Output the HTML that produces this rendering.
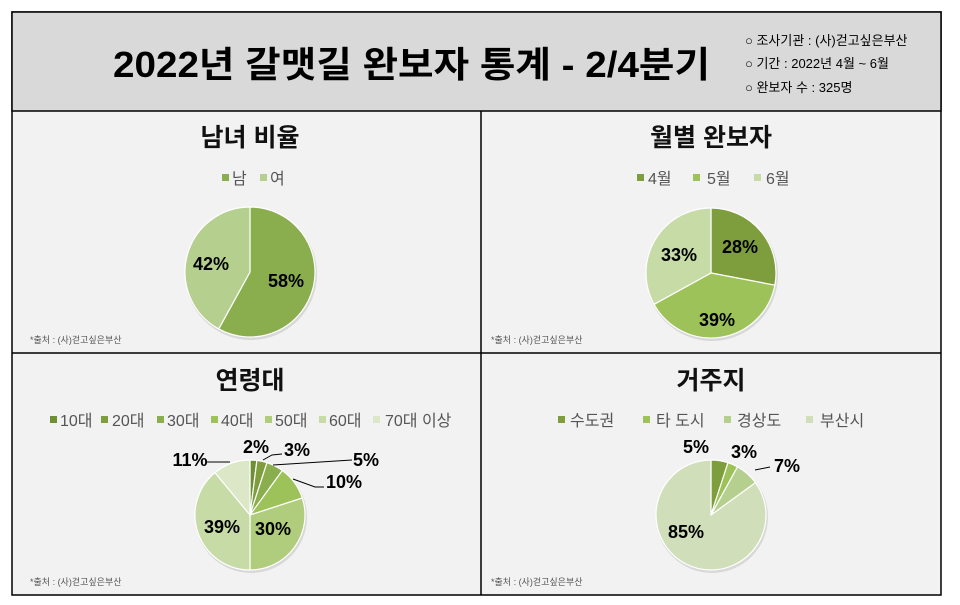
<!DOCTYPE html>
<html><head><meta charset="utf-8"><style>
body{margin:0;width:960px;height:600px;background:#fff;font-family:"Liberation Sans","Noto Sans CJK KR",sans-serif;overflow:hidden}
</style></head><body>
<svg id="s" width="960" height="600" xmlns="http://www.w3.org/2000/svg" font-family="Liberation Sans, Noto Sans CJK KR, sans-serif">
<rect x="12" y="12" width="929" height="583" fill="#f2f2f2" stroke="#000" stroke-width="1.5"/>
<rect x="12" y="12" width="929" height="99" fill="#d9d9d9" stroke="#000" stroke-width="1.5"/>
<line x1="481" y1="111" x2="481" y2="595" stroke="#000" stroke-width="1.5"/>
<line x1="12" y1="353" x2="941" y2="353" stroke="#000" stroke-width="1.5"/>
<text x="113" y="77" font-size="36" font-weight="bold" textLength="597" lengthAdjust="spacingAndGlyphs" fill="#000">2022년 갈맷길 완보자 통계 - 2/4분기</text>
<g font-size="13" fill="#000"><text x="745" y="45">○ 조사기관 : (사)걷고싶은부산</text><text x="745" y="68">○ 기간 : 2022년 4월 ~ 6월</text><text x="745" y="92">○ 완보자 수 : 325명</text></g>
<g font-size="25" font-weight="bold" text-anchor="middle" fill="#111"><text x="250" y="146">남녀 비율</text><text x="711" y="146">월별 완보자</text><text x="250" y="389">연령대</text><text x="711" y="389">거주지</text></g>
<g font-size="16" fill="#555">
<rect x="222" y="174" width="7" height="7" fill="#8aad4e"/><text x="232" y="184">남</text>
<rect x="260" y="174" width="7" height="7" fill="#b5cf8f"/><text x="270" y="184">여</text>
<rect x="637" y="174" width="7" height="7" fill="#7e9e3e"/><text x="648" y="184">4월</text>
<rect x="693" y="174" width="7" height="7" fill="#9dc25a"/><text x="707" y="184">5월</text>
<rect x="754" y="174" width="7" height="7" fill="#c7dba7"/><text x="766" y="184">6월</text>
<rect x="50" y="416" width="7" height="7" fill="#6f8f35"/><text x="60" y="426">10대</text>
<rect x="101" y="416" width="7" height="7" fill="#7e9e3e"/><text x="112" y="426">20대</text>
<rect x="157" y="416" width="7" height="7" fill="#8aad4e"/><text x="167" y="426">30대</text>
<rect x="211" y="416" width="7" height="7" fill="#9dc25a"/><text x="221" y="426">40대</text>
<rect x="265" y="416" width="7" height="7" fill="#afcd7c"/><text x="275" y="426">50대</text>
<rect x="319" y="416" width="7" height="7" fill="#c7dba7"/><text x="329" y="426">60대</text>
<rect x="373" y="416" width="7" height="7" fill="#dbe7c7"/><text x="385" y="426">70대 이상</text>
<rect x="558" y="416" width="7" height="7" fill="#7e9e3e"/><text x="570" y="426">수도권</text>
<rect x="643" y="416" width="7" height="7" fill="#9dc25a"/><text x="656" y="426">타 도시</text>
<rect x="724" y="416" width="7" height="7" fill="#b5cf8f"/><text x="737" y="426">경상도</text>
<rect x="806" y="416" width="7" height="7" fill="#d0deba"/><text x="820" y="426">부산시</text>
</g>
<g font-size="9" fill="#555"><text x="30" y="343">*출처 : (사)걷고싶은부산</text><text x="491" y="343">*출처 : (사)걷고싶은부산</text><text x="30" y="585">*출처 : (사)걷고싶은부산</text><text x="491" y="585">*출처 : (사)걷고싶은부산</text></g>
<g id="pies"></g>
<g font-size="18" font-weight="bold" fill="#000" text-anchor="middle">
<text x="286" y="287">58%</text><text x="211" y="270">42%</text>
<text x="740" y="253">28%</text><text x="717" y="326">39%</text><text x="679" y="261">33%</text>
<text x="256" y="453">2%</text><text x="297" y="456">3%</text><text x="366" y="466">5%</text><text x="344" y="488">10%</text>
<text x="273" y="535">30%</text><text x="222" y="533">39%</text><text x="190" y="466">11%</text>
<text x="696" y="453">5%</text><text x="744" y="458">3%</text><text x="787" y="472">7%</text><text x="686" y="538">85%</text>
</g>
<g stroke="#000" stroke-width="1" fill="none">
<polyline points="263,460 272,455 282,454"/><polyline points="273,465 352,460"/><polyline points="293,479 315,487 324,487"/><polyline points="207,462 230,462"/>
<polyline points="755,470 770,467"/>
</g>
</svg>
<script>
function pie(cx,cy,r,vals,cols){
 var g=document.getElementById('pies'),ns='http://www.w3.org/2000/svg';
 var c=document.createElementNS(ns,'circle');c.setAttribute('cx',cx+1);c.setAttribute('cy',cy+2);c.setAttribute('r',r+1);c.setAttribute('fill','#d8d8d8');g.appendChild(c);
 var tot=vals.reduce(function(a,b){return a+b},0),a=-Math.PI/2;
 vals.forEach(function(v,i){var b=a+v/tot*2*Math.PI;
  var x1=cx+r*Math.cos(a),y1=cy+r*Math.sin(a),x2=cx+r*Math.cos(b),y2=cy+r*Math.sin(b);
  var p=document.createElementNS(ns,'path');
  p.setAttribute('d','M'+cx+','+cy+'L'+x1+','+y1+'A'+r+','+r+' 0 '+((b-a)>Math.PI?1:0)+' 1 '+x2+','+y2+'Z');
  p.setAttribute('fill',cols[i]);p.setAttribute('stroke','#fff');p.setAttribute('stroke-width','1.2');g.appendChild(p);a=b;});
}
pie(250,272,65,[58,42],['#8aad4e','#b5cf8f']);
pie(711,273,65,[28,39,33],['#7e9e3e','#9dc25a','#c7dba7']);
pie(250,515,55,[2,3,5,10,30,39,11],['#6f8f35','#7e9e3e','#8aad4e','#9dc25a','#afcd7c','#c7dba7','#dbe7c7']);
pie(711,515,55,[5,3,7,85],['#7e9e3e','#9dc25a','#b5cf8f','#d0deba']);
</script>
</body></html>
